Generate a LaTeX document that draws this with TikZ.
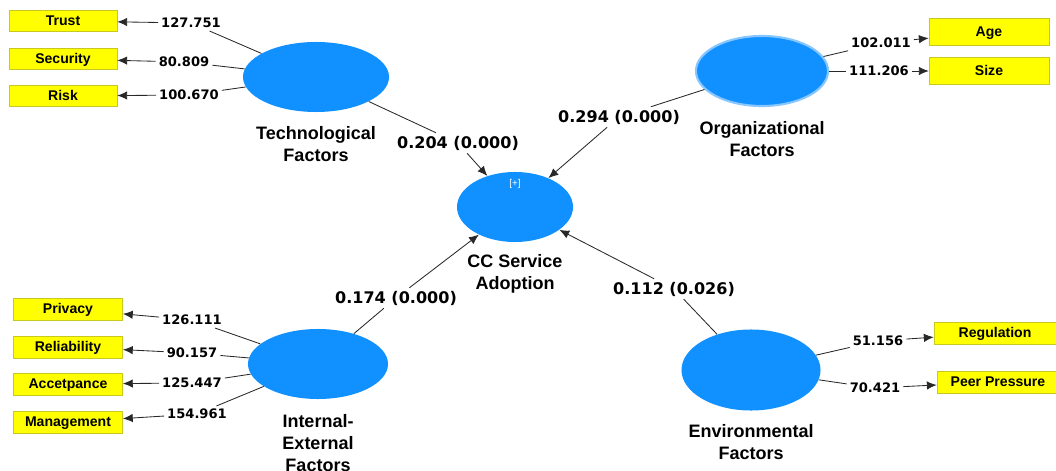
\documentclass[tikz,border=0pt]{standalone}
\usepackage{fontspec}
\setmainfont{Liberation Sans}
\newfontfamily\numfont{DejaVu Sans}
\usetikzlibrary{shapes.geometric,arrows.meta}
\definecolor{lvblue}{RGB}{17,144,255}
\definecolor{lvrim}{RGB}{135,198,255}
\definecolor{indyellow}{RGB}{255,255,0}
\definecolor{indrim}{RGB}{200,200,30}
\definecolor{pathgray}{RGB}{40,40,40}

\begin{document}
\begin{tikzpicture}[x=0.025cm,y=-0.025cm,
  latent/.style={ellipse,fill=lvblue,inner sep=0pt},
  lvname/.style={align=center,font=\fontsize{12.8}{15.6}\selectfont\bfseries},
  indicator/.style={draw=indrim,fill=indyellow,inner sep=0pt,text depth=0.2ex,font=\fontsize{10}{12}\selectfont\bfseries},
  loadtext/.style={inner sep=2pt,font=\numfont\fontsize{9.3}{11}\selectfont\bfseries},
  pathtext/.style={inner sep=2pt,font=\numfont\fontsize{11.4}{13}\selectfont\bfseries},
  link/.style={draw=pathgray,line width=0.6pt},
  tip/.style={link,-{Latex[length=7pt,width=6pt]}}]

\useasboundingbox (0,0) rectangle (1056,471);

% latent variables
\node[latent,minimum width=3.65cm,minimum height=1.75cm] (tech) at (316,77) {};
\node[latent,draw=lvrim,line width=1.5pt,minimum width=3.3cm,minimum height=1.75cm] (org) at (762,71) {};
\node[latent,minimum width=2.9cm,minimum height=1.75cm] (cc) at (515,207) {};
\node[latent,minimum width=3.5cm,minimum height=1.75cm] (ie) at (318,364) {};
\node[latent,minimum width=3.475cm,minimum height=2.025cm] (env) at (751,370) {};
\node[text=white,font=\fontsize{7}{8}\selectfont] (expand) at (515,184) {[+]};

\node[lvname] (techname) at (316,144) {Technological\\Factors};
\node[lvname] (orgname) at (762,139) {Organizational\\Factors};
\node[lvname] (ccname) at (515,274) {CC Service\\Adoption};
\node[lvname] (iename) at (318,443) {Internal-\\External\\Factors};
\node[lvname] (envname) at (751,442) {Environmental\\Factors};

% indicators
\begin{scope}[every node/.style={indicator,minimum width=2.7cm,minimum height=0.53cm}]
\node (trust) at (63,21) {Trust};
\node (security) at (63,59) {Security};
\node (risk) at (63,96) {Risk};
\end{scope}
\begin{scope}[every node/.style={indicator,minimum width=3cm,minimum height=0.68cm}]
\node (age) at (989,32) {Age};
\node (size) at (989,71) {Size};
\end{scope}
\begin{scope}[every node/.style={indicator,minimum width=2.73cm,minimum height=0.55cm}]
\node (privacy) at (68,309) {Privacy};
\node (reliability) at (68,347) {Reliability};
\node (acceptance) at (68,384) {Accetpance};
\node (management) at (68,422) {Management};
\end{scope}
\begin{scope}[every node/.style={indicator,minimum width=3.05cm,minimum height=0.55cm}]
\node (regulation) at (995,333) {Regulation};
\node (peer) at (998,382) {Peer Pressure};
\end{scope}

% outer loadings
\node[loadtext] (ltrust) at (191,23) {127.751};
\node[loadtext] (lsecurity) at (184,62) {80.809};
\node[loadtext] (lrisk) at (189,95) {100.670};
\node[loadtext] (lage) at (881,43) {102.011};
\node[loadtext] (lsize) at (879,71) {111.206};
\node[loadtext] (lprivacy) at (192,320) {126.111};
\node[loadtext] (lreliability) at (192,353) {90.157};
\node[loadtext] (lacceptance) at (192,383) {125.447};
\node[loadtext] (lmanagement) at (197,414) {154.961};
\node[loadtext] (lregulation) at (878,341) {51.156};
\node[loadtext] (lpeer) at (875,388) {70.421};

\draw[link] (tech) -- (ltrust);
\draw[tip] (ltrust) -- (trust);
\draw[link] (tech) -- (lsecurity);
\draw[tip] (lsecurity) -- (security);
\draw[link] (tech) -- (lrisk);
\draw[tip] (lrisk) -- (risk);

\draw[link] (org) -- (lage);
\draw[tip] (lage) -- (age);
\draw[link] (org) -- (lsize);
\draw[tip] (lsize) -- (size);

\draw[link] (ie) -- (lprivacy);
\draw[tip] (lprivacy) -- (privacy);
\draw[link] (ie) -- (lreliability);
\draw[tip] (lreliability) -- (reliability);
\draw[link] (ie) -- (lacceptance);
\draw[tip] (lacceptance) -- (acceptance);
\draw[link] (ie) -- (lmanagement);
\draw[tip] (lmanagement) -- (management);

\draw[link] (env) -- (lregulation);
\draw[tip] (lregulation) -- (regulation);
\draw[link] (env) -- (lpeer);
\draw[tip] (lpeer) -- (peer);

% path coefficients
\node[pathtext] (ptech) at (458,143) {0.204 (0.000)};
\node[pathtext] (porg) at (619,117) {0.294 (0.000)};
\node[pathtext] (pie) at (396,298) {0.174 (0.000)};
\node[pathtext] (penv) at (674,289) {0.112 (0.026)};

\draw[link] (tech) -- (ptech);
\draw[tip] (ptech) -- (cc);
\draw[link] (org) -- (porg);
\draw[tip] (porg) -- (cc);
\draw[link] (ie) -- (pie);
\draw[tip] (pie) -- (cc);
\draw[link] (env) -- (penv);
\draw[tip] (penv) -- (cc);

\end{tikzpicture}
\end{document}
